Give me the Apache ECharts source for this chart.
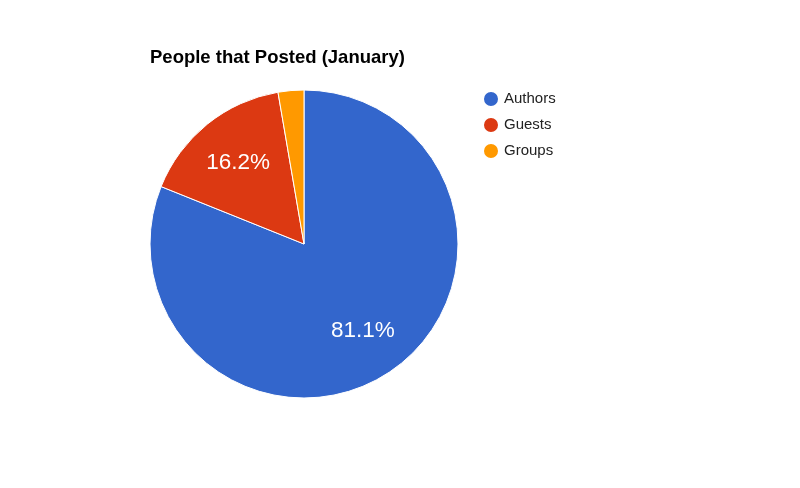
<!DOCTYPE html>
<html>
<head>
<meta charset="utf-8">
<script src="https://cdn.jsdelivr.net/npm/echarts@6/dist/echarts.min.js"></script>
<style>html,body{margin:0;padding:0;background:#fff}#c{width:800px;height:488px}</style>
</head>
<body>
<div id="c"></div>
<script>
var titleText = 'People that Posted (January)';
var categories = ['Authors', 'Guests', 'Groups'];
var values = [30, 6, 1];
var colors = ['#3366cc', '#dc3912', '#ff9900'];
var showLabel = [true, true, false];

var chart = echarts.init(document.getElementById('c'), null, {renderer: 'canvas'});
var font = '"Liberation Sans", Arial, sans-serif';
var pieData = categories.map(function (c, i) {
  return {name: c, value: values[i], itemStyle: {color: colors[i]}};
});
var labelData = categories.map(function (c, i) {
  return {name: c, value: values[i], label: {show: showLabel[i]}};
});
chart.setOption({
  animation: false,
  title: {
    text: titleText, left: 150, top: 48, padding: 0,
    textStyle: {fontFamily: font, fontSize: 18.5, fontWeight: 'bold', color: '#000'}
  },
  legend: {
    orient: 'vertical', left: 482, top: 90, padding: 0,
    icon: 'circle', itemWidth: 16, itemHeight: 16, itemGap: 8,
    data: categories,
    textStyle: {fontFamily: font, fontSize: 15, color: '#222'}
  },
  series: [
    {
      type: 'pie', center: [304, 244], radius: [0, 154],
      startAngle: 90, clockwise: true, silent: true,
      itemStyle: {borderColor: '#fff', borderWidth: 1},
      label: {show: false}, labelLine: {show: false},
      data: pieData
    },
    {
      type: 'pie', center: [304, 244], radius: [0, 204],
      startAngle: 90, clockwise: true, silent: true,
      legendHoverLink: false,
      itemStyle: {color: 'rgba(0,0,0,0)', borderWidth: 0},
      label: {
        show: true, position: 'inside', color: '#fff',
        fontFamily: font, fontSize: 22.5,
        formatter: function (p) { return p.percent.toFixed(1) + '%'; }
      },
      labelLine: {show: false},
      emphasis: {disabled: true},
      data: labelData
    }
  ]
});
</script>
</body>
</html>
